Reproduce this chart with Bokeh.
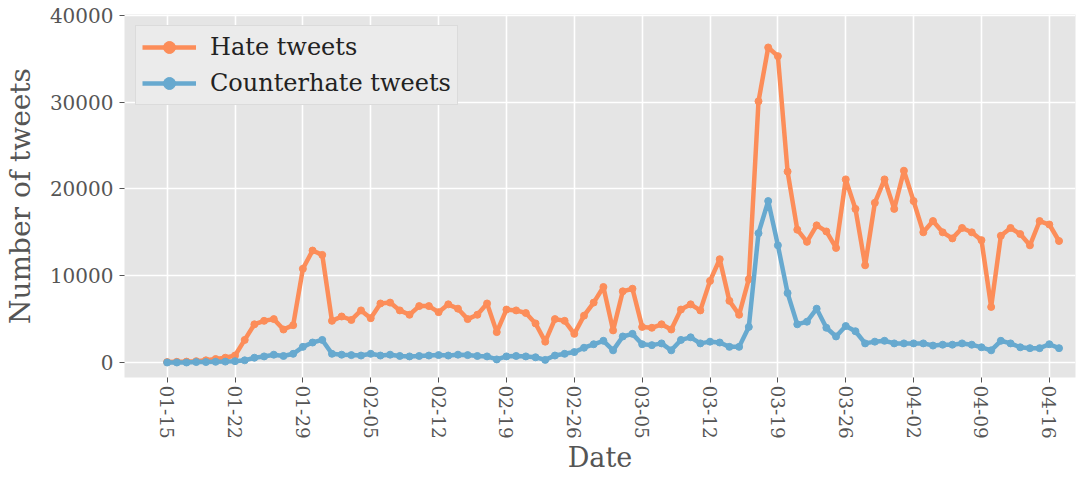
import pandas as pd
from bokeh.plotting import figure
from bokeh.models import Range1d, FixedTicker, DatetimeTickFormatter, Legend
from bokeh.embed import file_html
from bokeh.resources import INLINE

start_date = "2018-01-15"
n_days = 93

hate = [50, 80, 100, 150, 250, 400, 550, 800, 2600, 4400,
        4800, 5000, 3800, 4300, 10800, 12900, 12400, 4800, 5300, 4900,
        6000, 5100, 6800, 6900, 6000, 5500, 6500, 6500, 5800, 6700,
        6200, 5000, 5500, 6800, 3500, 6100, 6000, 5700, 4500, 2400,
        5000, 4800, 3300, 5400, 6900, 8700, 3700, 8200, 8500, 4100,
        4000, 4400, 3800, 6100, 6700, 6000, 9400, 11900, 7100, 5500,
        9600, 30100, 36300, 35300, 22000, 15300, 13900, 15800, 15100, 13200,
        21100, 17700, 11200, 18400, 21100, 17700, 22100, 18600, 15000, 16300,
        15000, 14300, 15500, 15000, 14100, 6400, 14600, 15500, 14800, 13500,
        16300, 15900, 14000]

counter = [0, 0, 0, 50, 50, 80, 100, 150, 250, 550,
           700, 900, 750, 1000, 1800, 2300, 2600, 1000, 900, 850,
           800, 1000, 800, 900, 750, 700, 750, 800, 850, 800,
           900, 850, 750, 700, 350, 700, 750, 700, 600, 300,
           800, 1000, 1200, 1700, 2100, 2500, 1400, 3000, 3300, 2100,
           2000, 2200, 1400, 2600, 2900, 2200, 2400, 2300, 1800, 1800,
           4100, 14900, 18600, 13500, 8000, 4400, 4700, 6200, 4000, 3000,
           4200, 3600, 2200, 2400, 2500, 2200, 2200, 2200, 2200, 1950,
           2050, 2050, 2200, 2050, 1750, 1400, 2500, 2200, 1750, 1650,
           1650, 2100, 1650]

y_ticks = [0, 10000, 20000, 30000, 40000]
series_names = ["Hate tweets", "Counterhate tweets"]
colors = ["#fc8d59", "#67a9cf"]

dates = pd.date_range(start_date, periods=n_days, freq="D")
tick_dates = dates[::7]

FONT = "DejaVu Serif"

p = figure(width=1076, height=478, x_axis_type="datetime",
           output_backend="svg", toolbar_location=None,
           min_border_left=122, min_border_right=1,
           min_border_top=14, min_border_bottom=101)

p.x_range = Range1d(start=(dates[0] - pd.Timedelta(days=4.4)).to_pydatetime(),
                    end=(dates[0] + pd.Timedelta(days=93.7)).to_pydatetime())
p.y_range = Range1d(start=-1730, end=40100)

p.background_fill_color = "#E5E5E5"
p.border_fill_color = "white"
p.outline_line_color = None

p.xgrid.grid_line_color = "white"
p.ygrid.grid_line_color = "white"
p.xgrid.grid_line_width = 1.6
p.ygrid.grid_line_width = 1.6

p.xaxis.ticker = FixedTicker(ticks=[d.timestamp() * 1000 for d in tick_dates])
fmt = "%m-%d"
p.xaxis.formatter = DatetimeTickFormatter(
    microseconds=fmt, milliseconds=fmt, seconds=fmt, minsec=fmt, minutes=fmt,
    hourmin=fmt, hours=fmt, days=fmt, months=fmt, years=fmt)
p.xaxis.major_label_orientation = "vertical"
p.yaxis.ticker = FixedTicker(ticks=y_ticks)

for ax in (p.xaxis[0], p.yaxis[0]):
    ax.axis_line_color = None
    ax.major_tick_line_color = "#555555"
    ax.major_tick_out = 5
    ax.major_tick_in = 0
    ax.minor_tick_line_color = None
    ax.major_label_text_font = FONT
    ax.major_label_text_color = "#555555"
    ax.axis_label_text_font = FONT
    ax.axis_label_text_font_style = "normal"
    ax.axis_label_text_color = "#555555"

p.xaxis.major_label_text_font_size = "18.5px"
p.yaxis.major_label_text_font_size = "20px"
p.xaxis.axis_label_text_font_size = "27px"
p.yaxis.axis_label_text_font_size = "28px"

p.xaxis.axis_label = "Date"
p.yaxis.axis_label = "Number of tweets"
p.xaxis.major_label_standoff = 3
p.yaxis.major_label_standoff = 6
p.xaxis.axis_label_standoff = 0
p.yaxis.axis_label_standoff = 10

items = []
for name, vals, col in zip(series_names, [hate, counter], colors):
    r1 = p.line(dates, vals, line_color=col, line_width=4.5)
    r2 = p.scatter(dates, vals, size=7, fill_color=col, line_color=col)
    items.append((name, [r1, r2]))

legend = Legend(items=items, location="top_left")
legend.label_text_font = FONT
legend.label_text_font_size = "24px"
legend.label_text_color = "#222222"
legend.background_fill_color = "#EBEBEB"
legend.background_fill_alpha = 1.0
legend.border_line_color = "#CCCCCC"
legend.border_line_width = 1
legend.margin = 11
legend.padding = 6
legend.spacing = 6
legend.glyph_width = 54
legend.glyph_height = 30
legend.label_standoff = 14
p.add_layout(legend, "center")

open("out.html", "w").write(file_html(p, INLINE))
